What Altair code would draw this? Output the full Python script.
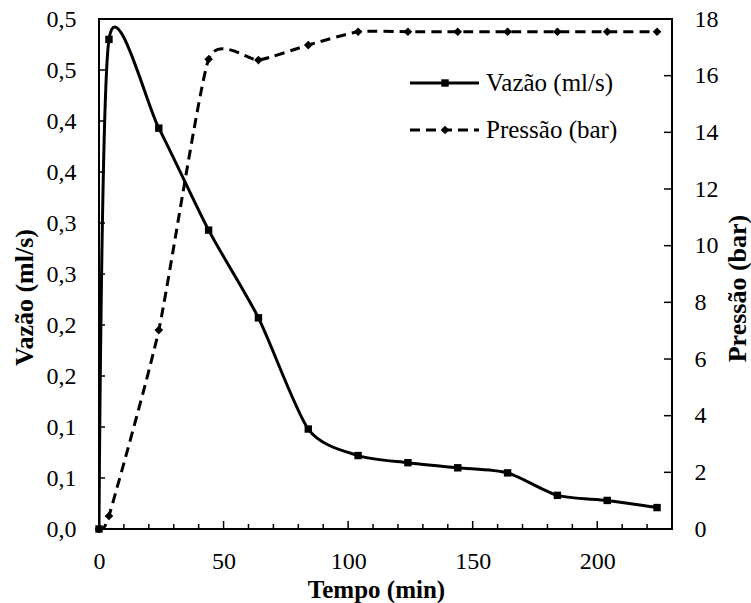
import altair as alt
import pandas as pd

# ---------------- data ----------------
tempo = [0, 4, 24, 44, 64, 84, 104, 124, 144, 164, 184, 204, 224]
vazao = [0.0, 0.480, 0.393, 0.293, 0.207, 0.098, 0.072, 0.065, 0.060, 0.055, 0.033, 0.028, 0.021]
pressao = [0.0, 0.46, 7.02, 16.58, 16.55, 17.08, 17.55, 17.55, 17.55, 17.55, 17.55, 17.55, 17.55]

x_labels = [0, 50, 100, 150, 200]
x_major_ticks = [0, 50, 100, 150, 200]
x_minor_ticks = [10, 20, 30, 40, 60, 70, 80, 90, 110, 120, 130, 140,
                 160, 170, 180, 190, 210, 220]
left_ticks = [0.0, 0.05, 0.10, 0.15, 0.20, 0.25, 0.30, 0.35, 0.40, 0.45, 0.50]
right_ticks = [0, 2, 4, 6, 8, 10, 12, 14, 16, 18]

legend_labels = ["Vazão (ml/s)", "Pressão (bar)"]

FONT = "Liberation Serif, Times New Roman, serif"
W, H = 573, 510

df = pd.DataFrame({"tempo": tempo, "vazao": vazao, "pressao": pressao})

xscale = alt.Scale(domain=[0, 230], nice=False, zero=False)
ylscale = alt.Scale(domain=[0, 0.5], nice=False)
yrscale = alt.Scale(domain=[0, 18], nice=False)

# the same x axis object is given to every layer that uses the x scale, so that
# the shared axis merges without conflict
x_axis = alt.Axis(
    values=x_labels, title="Tempo  (min)", grid=False, domain=False, ticks=False,
    labelFont=FONT, labelFontSize=24, labelColor="black", labelFlush=False,
    labelBaseline="alphabetic", labelPadding=39,
    titleFont=FONT, titleFontSize=25, titleFontWeight="bold", titleColor="black",
    titleX=277, titleY=68, titleBaseline="alphabetic")

yl_axis = alt.Axis(
    values=left_ticks, orient="left", title="Vazão (ml/s)", grid=False, domain=False,
    ticks=False, labelFlush=False,
    labelExpr="replace(format(round(datum.value*10+0.001)/10,'.1f'),'.',',')",
    labelFont=FONT, labelFontSize=24, labelColor="black", labelPadding=23,
    titleFont=FONT, titleFontSize=26, titleFontWeight="bold", titleColor="black",
    titleAngle=270, titleX=-75, titleY=278, titleAlign="center", titleBaseline="middle")

yr_axis = alt.Axis(
    values=right_ticks, orient="right", title="Pressão (bar)", grid=False, domain=False,
    ticks=False, format="d", labelFlush=False,
    labelFont=FONT, labelFontSize=24, labelColor="black", labelPadding=22,
    titleFont=FONT, titleFontSize=26, titleFontWeight="bold", titleColor="black",
    titleAngle=270, titleX=65, titleY=269, titleAlign="center", titleBaseline="middle")

X = alt.X("tempo:Q", scale=xscale, axis=x_axis)
base = alt.Chart(df)

vazao_line = base.mark_line(color="black", strokeWidth=3, interpolate="cardinal",
                            tension=0.25, clip=True).encode(
    x=X, y=alt.Y("vazao:Q", scale=ylscale, axis=yl_axis))
vazao_pts = base.mark_point(shape="square", filled=True, size=55, color="black",
                            opacity=1).encode(
    x=X, y=alt.Y("vazao:Q", scale=ylscale, axis=None))

pressao_line = base.mark_line(color="black", strokeWidth=3, strokeDash=[10, 6],
                              interpolate="cardinal", tension=0.45, clip=True).encode(
    x=X, y=alt.Y("pressao:Q", scale=yrscale, axis=yr_axis))
pressao_pts = base.mark_point(shape="diamond", filled=True, size=75, color="black",
                              opacity=1).encode(
    x=X, y=alt.Y("pressao:Q", scale=yrscale, axis=None))

# inward tick marks
xmaj = alt.Chart(pd.DataFrame({"tempo": x_major_ticks})).mark_rule(color="black", strokeWidth=1.5).encode(
    x=X, y=alt.value(H), y2=alt.value(H - 8))
xmin = alt.Chart(pd.DataFrame({"tempo": x_minor_ticks})).mark_rule(color="black", strokeWidth=1.5).encode(
    x=X, y=alt.value(H), y2=alt.value(H - 5))
lt = alt.Chart(pd.DataFrame({"v": left_ticks})).mark_rule(color="black", strokeWidth=1.5).encode(
    y=alt.Y("v:Q", scale=ylscale, axis=None), x=alt.value(0), x2=alt.value(6))
rt = alt.Chart(pd.DataFrame({"v": right_ticks})).mark_rule(color="black", strokeWidth=1.5).encode(
    y=alt.Y("v:Q", scale=yrscale, axis=None), x=alt.value(W), x2=alt.value(W - 8))

# manual legend (line + marker + text)
legend_layers = []
for label, dash, shape, size, ypix in [
    (legend_labels[0], [1, 0], "square", 55, 64),
    (legend_labels[1], [10, 6], "diamond", 75, 111),
]:
    d = pd.DataFrame({"label": [label]})
    legend_layers.append(alt.Chart(d).mark_rule(color="black", strokeWidth=3, strokeDash=dash).encode(
        x=alt.value(311), x2=alt.value(380), y=alt.value(ypix)))
    legend_layers.append(alt.Chart(d).mark_point(shape=shape, filled=True, size=size,
                                                 color="black", opacity=1).encode(
        x=alt.value(346), y=alt.value(ypix)))
    legend_layers.append(alt.Chart(d).mark_text(align="left", baseline="middle", fontSize=25,
                                                font=FONT, color="black").encode(
        x=alt.value(387), y=alt.value(ypix), text="label:N"))

chart = alt.layer(
    vazao_line, pressao_line, vazao_pts, pressao_pts, lt, rt, xmaj, xmin, *legend_layers
).resolve_scale(y="independent").properties(
    width=W, height=H,
    padding={"left": 99, "top": 19, "right": 79, "bottom": 74},
    autosize=alt.AutoSizeParams(type="none"),
    background="white",
).configure_view(stroke="black", strokeWidth=2)

chart.save("out.html", embed_options={"renderer": "svg", "actions": False})
